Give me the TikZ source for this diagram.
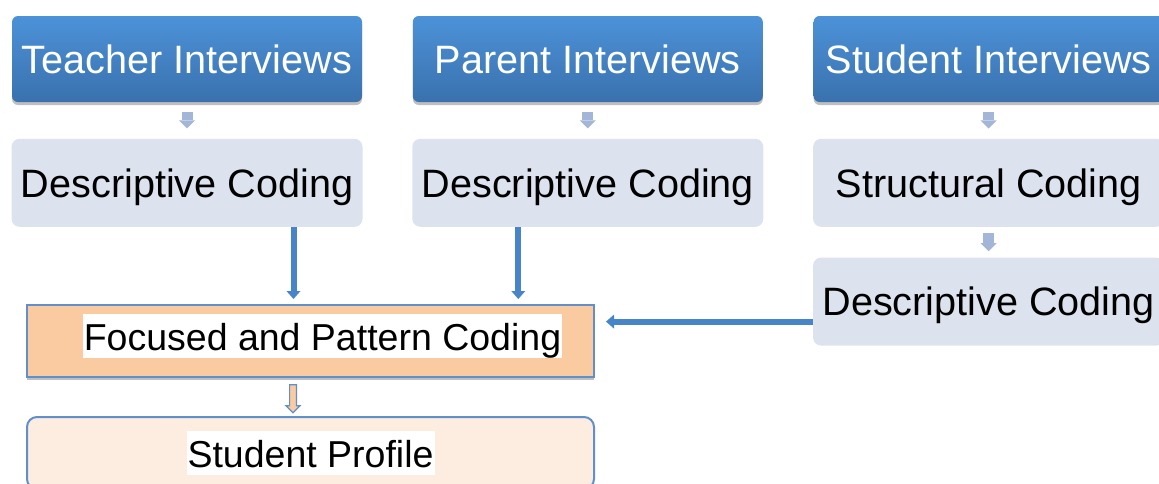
\documentclass[tikz,border=0pt]{standalone}
\usepackage{fontspec}
\setmainfont{Liberation Sans}
\usepackage{xcolor}
\usetikzlibrary{arrows.meta, positioning, calc, shadows, shapes.arrows}

\definecolor{azulclaro}{RGB}{76,146,216}
\definecolor{azuloscuro}{RGB}{58,113,174}
\definecolor{grisazul}{RGB}{220,226,238}
\definecolor{naranja}{RGB}{250,203,161}
\definecolor{crema}{RGB}{253,236,224}
\definecolor{borde}{RGB}{96,143,205}
\definecolor{flechaazul}{RGB}{72,132,200}
\definecolor{flechagris}{RGB}{163,182,216}

\begin{document}
\begin{tikzpicture}[
    x=0.5pt, y=-0.5pt,
    font=\fontsize{19.8}{22}\selectfont,
    entrevista/.style={rounded corners=3pt, minimum width=175pt,
                       minimum height=43pt, top color=azulclaro,
                       bottom color=azuloscuro, text=white,
                       drop shadow={shadow xshift=0pt, shadow yshift=-1.5pt,
                                    opacity=0.25, fill=black}},
    codigo/.style={rounded corners=4pt, fill=grisazul, text height=14.5pt,
                   text depth=0.3pt, minimum width=175.5pt, minimum height=44pt},
    enfoque/.style={draw=borde, line width=1pt, fill=naranja,
                    minimum width=283.5pt, minimum height=36pt,
                    drop shadow={shadow xshift=0pt, shadow yshift=-1.5pt,
                                 opacity=0.25, fill=black}},
    perfil/.style={draw=borde, line width=1pt, fill=crema, rounded corners=5pt,
                   minimum width=283.5pt, minimum height=36pt},
    resalte/.style={fill=white, inner sep=0.5pt, text height=17.5pt,
                    text depth=3.5pt, font=\fontsize{18.75}{22}\selectfont},
    flechita/.style={line width=5.5pt, flechagris, shorten <=5pt, shorten >=5pt,
                     -{Triangle[width=8pt, length=4pt, line width=0pt]}},
    flecha/.style={line width=3pt, flechaazul, shorten >=2.5pt,
                   -{Triangle[width=7pt, length=4pt, line width=0pt]}},
    hueca/.style={single arrow, draw=borde, fill=naranja, line width=0.6pt,
                  inner sep=1.4pt, single arrow head extend=1.8pt,
                  minimum height=14pt, shape border rotate=270}
  ]
  \useasboundingbox (0,0) rectangle (1159,483);

  % --- Fila 1: entrevistas ---
  \node[entrevista] (teacher) at (187,59) {Teacher Interviews};
  \node[entrevista, right=25pt of teacher] (parent) {Parent Interviews};
  \node[entrevista, right=25pt of parent] (student) {Student Interviews};

  % --- Fila 2: primer ciclo de codificacion ---
  \node[codigo, below=18pt of teacher] (tdesc) {Descriptive Coding};
  \node[codigo, below=18pt of parent] (pdesc) {Descriptive Coding};
  \node[codigo, below=18pt of student] (sstruct) {Structural Coding};
  \node[codigo, below=15pt of sstruct] (sdesc) {Descriptive Coding};

  \draw[flechita] (teacher) -- (tdesc);
  \draw[flechita] (parent) -- (pdesc);
  \draw[flechita] (student) -- (sstruct);
  \draw[flechita, shorten <=3pt, shorten >=3pt] (sstruct) -- (sdesc);

  % --- Segundo ciclo y perfil ---
  \node[enfoque] (focus) at (310.5,341) {};
  \node[resalte, xshift=6pt, yshift=2.5pt] (focuslbl) at (focus)
    {Focused and Pattern Coding};
  \node[perfil, below=19pt of focus] (profile) {};
  \node[resalte] (profilelbl) at (profile) {Student Profile};

  \draw[flecha] ([xshift=53.25pt]tdesc.south)
    -- ([xshift=53.25pt]tdesc.south |- focus.north);
  \draw[flecha] ([xshift=-34.75pt]pdesc.south)
    -- ([xshift=-34.75pt]pdesc.south |- focus.north);
  % la flecha sale de la caja de la derecha un poco por debajo del centro
  \draw[flecha, shorten >=5.5pt] ([yshift=-10pt]sdesc.west)
    -- ([yshift=-10pt]sdesc.west -| focus.east);

  \node[hueca] (paso) at ($([xshift=-8.75pt]focus.south)!0.5!([xshift=-8.75pt]profile.north)$) {};
\end{tikzpicture}
\end{document}
